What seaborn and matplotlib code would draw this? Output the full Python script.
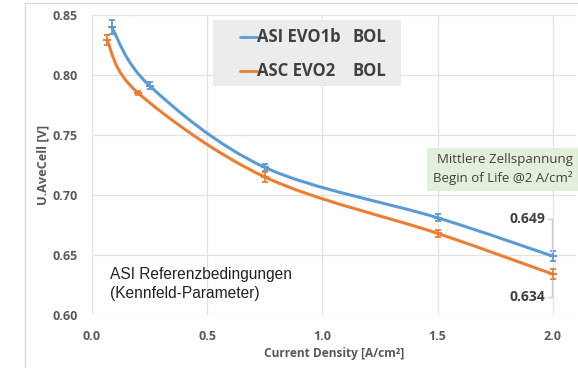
import numpy as np
import pandas as pd
import matplotlib
matplotlib.use("Agg")
import matplotlib.pyplot as plt
import seaborn as sns
from matplotlib.path import Path
from matplotlib.patches import PathPatch, Rectangle
from matplotlib.lines import Line2D

# ---- data ----
asi_x = [0.085, 0.25, 0.75, 1.5, 2.0]
asi_y = [0.840, 0.791, 0.723, 0.681, 0.649]
asi_err = [0.006, 0.003, 0.003, 0.003, 0.004]
asc_x = [0.065, 0.20, 0.75, 1.5, 2.0]
asc_y = [0.829, 0.785, 0.715, 0.668, 0.634]
asc_err = [0.004, 0.002, 0.004, 0.003, 0.004]
series_names = ["ASI EVO1b", "ASC EVO2"]
series_suffix = ["BOL", "BOL"]
x_ticks = [0.0, 0.5, 1.0, 1.5, 2.0]
y_ticks = [0.60, 0.65, 0.70, 0.75, 0.80, 0.85]

BLUE = "#5b9bd5"
ORANGE = "#ed7d31"
GREY = "#595959"
DARK = "#404040"
W, H = 578, 368

sns.set_theme(style="whitegrid")
plt.rcParams["font.family"] = ["Open Sans", "DejaVu Sans"]

fig = plt.figure(figsize=(W / 100, H / 100), dpi=100)
ax = fig.add_axes([92 / W, 53 / H, 484 / W, 300 / H])


def P(x, y):
    """pixel position (top-left origin) -> figure fraction"""
    return (x / W, 1 - y / H)


# outer chart border (light)
fig.patches.append(Rectangle(P(25, 3), 1.2, -1.2, transform=fig.transFigure,
                             fill=False, edgecolor="#d9d9d9", lw=1.0))


def smooth_path(xs, ys):
    pts = np.column_stack([xs, ys])
    n = len(pts)
    verts = [pts[0]]
    codes = [Path.MOVETO]
    for i in range(n - 1):
        p0 = pts[i - 1] if i > 0 else pts[i]
        p1 = pts[i]
        p2 = pts[i + 1]
        p3 = pts[i + 2] if i + 2 < n else pts[i + 1]
        c1 = p1 + (p2 - p0) / 6.0
        c2 = p2 - (p3 - p1) / 6.0
        verts += [c1, c2, p2]
        codes += [Path.CURVE4] * 3
    return Path(verts, codes)


for xs, ys, errs, col in [(asi_x, asi_y, asi_err, BLUE), (asc_x, asc_y, asc_err, ORANGE)]:
    ax.add_patch(PathPatch(smooth_path(xs, ys), fill=False, edgecolor=col, lw=2.2,
                           transform=ax.transData, zorder=3))
    ax.errorbar(xs, ys, yerr=errs, fmt="none", ecolor=col, elinewidth=1.3,
                capsize=2.5, capthick=1.3, zorder=4)
    df = pd.DataFrame({"x": xs, "y": ys})
    sns.scatterplot(data=df, x="x", y="y", ax=ax, marker="_", s=30, color=col,
                    linewidth=1.5, zorder=5, legend=False)

ax.set_xlim(0, 2.1)
ax.set_ylim(0.60, 0.85)
ax.set_xticks(x_ticks)
ax.set_yticks(y_ticks)
ax.set_xticklabels([f"{v:.1f}" for v in x_ticks])
ax.set_yticklabels([f"{v:.2f}" for v in y_ticks])
ax.tick_params(axis="x", labelsize=9, labelcolor=GREY, length=0, pad=11)
ax.tick_params(axis="y", labelsize=9, labelcolor=GREY, length=0, pad=10)
for lab in ax.get_xticklabels() + ax.get_yticklabels():
    lab.set_fontweight("bold")
ax.grid(True, color="#e3e3e3", lw=0.9)
for s in ax.spines.values():
    s.set_visible(False)
ax.set_facecolor("white")

ax.set_xlabel("Current Density [A/cm²]", fontsize=8.6, color=GREY, fontweight="bold", labelpad=3)
ax.set_ylabel("U.AveCell [V]", fontsize=9.2, color=GREY, fontweight="bold", labelpad=2)

# legend (box drawn in pixel layout)
fig.patches.append(Rectangle(P(213, 86), 188 / W, 66 / H, transform=fig.transFigure,
                             facecolor="#ececec", edgecolor="none", zorder=6))
for (yy, col, name, suf) in [(37, BLUE, series_names[0], series_suffix[0]),
                             (71, ORANGE, series_names[1], series_suffix[1])]:
    x0, y0 = P(240, yy)
    x1, _ = P(257, yy)
    fig.add_artist(Line2D([x0, x1], [y0, y0], color=col, lw=2, transform=fig.transFigure, zorder=7))
    fig.text(*P(257, yy), name, fontsize=12, fontweight="bold", color=DARK,
             ha="left", va="center", zorder=7)
    fig.text(*P(353, yy), suf, fontsize=12, fontweight="bold", color=DARK,
             ha="left", va="center", zorder=7)

# green info box
fig.patches.append(Rectangle(P(427, 191), 200 / W, 43 / H, transform=fig.transFigure,
                             facecolor="#e2efda", edgecolor="none", zorder=6))
fig.text(*P(437, 159), "Mittlere Zellspannung", fontsize=9.5, color=DARK,
         ha="left", va="center", zorder=7)
fig.text(*P(433, 178), "Begin of Life @2 A/cm²", fontsize=9.5, color=DARK,
         ha="left", va="center", zorder=7)

# value labels with leader lines
fig.text(*P(545, 219), f"{asi_y[-1]:.3f}", fontsize=10, fontweight="bold",
         color=DARK, ha="right", va="center")
fig.text(*P(545, 297), f"{asc_y[-1]:.3f}", fontsize=10, fontweight="bold",
         color=DARK, ha="right", va="center")
for xs_, ys_ in [([548, 552, 552], [219, 219, 252]), ([552, 552, 548], [280, 297, 297])]:
    fig.add_artist(Line2D([x / W for x in xs_], [1 - y / H for y in ys_], color="#cfcfcf",
                          lw=1, transform=fig.transFigure))

fig.text(*P(110, 267), "ASI Referenzbedingungen\n(Kennfeld-Parameter)", fontsize=11.2,
         family=["Liberation Sans", "DejaVu Sans"], color="#222222", ha="left", va="top",
         linespacing=1.3)

fig.savefig("out.png", dpi=100)
